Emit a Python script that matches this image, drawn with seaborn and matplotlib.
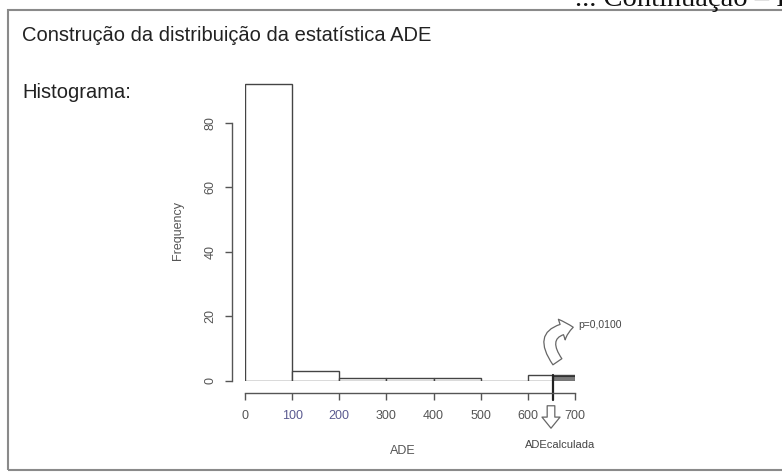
import numpy as np
import pandas as pd
import matplotlib
matplotlib.use("Agg")
import matplotlib.pyplot as plt
import matplotlib.transforms as mtransforms
from matplotlib.patches import FancyArrowPatch, Rectangle
import seaborn as sns

# ---- data ----
bin_edges = [0, 100, 200, 300, 400, 500, 600, 700]
bin_counts = [92, 3, 1, 1, 1, 0, 2]
x_ticks = [0, 100, 200, 300, 400, 500, 600, 700]
y_ticks = [0, 20, 40, 60, 80]
ade_calc = 653
shade_height = 1.5
p_label = "p=0,0100"
title = "Construção da distribuição da estatística ADE"
subtitle = "Histograma:"
header = "... Continuação – Figura"

sns.set_theme(style="ticks")
plt.rcParams['font.family'] = ['Liberation Sans', 'DejaVu Sans']

W, H = 782, 475
fig = plt.figure(figsize=(W / 100, H / 100), dpi=100)
fig.patch.set_facecolor('white')

def fx(px):
    return px / W

def fy(py):
    return 1 - py / H

# axes: data x 0..700 -> px 245..575 ; y 0 -> px 381, 80 -> px 122.7
px_per_unit = (381 - 122.7) / 80
top_px = 70
ymax = (381 - top_px) / px_per_unit
ax = fig.add_axes([fx(245), fy(381), fx(575) - fx(245), (381 - top_px) / H])
ax.set_facecolor('none')

mids = [(a + b) / 2 for a, b in zip(bin_edges[:-1], bin_edges[1:])]
df = pd.DataFrame({"ADE": mids, "n": bin_counts})
sns.histplot(data=df, x="ADE", weights="n", bins=bin_edges, ax=ax,
             color="white", edgecolor="#444444", linewidth=1.0, alpha=1)

# shaded part of the last bin (values >= ADE calculated)
ax.bar([ade_calc], [shade_height], width=bin_edges[-1] - ade_calc, align='edge',
       color="#7a7a7a", edgecolor="#333333", linewidth=0.8)

ax.set_xlim(0, 700)
ax.set_ylim(0, ymax)
for s in ['top', 'right']:
    ax.spines[s].set_visible(False)
ax.spines['bottom'].set_position(('outward', 12 * 0.72))
ax.spines['left'].set_position(('outward', 13 * 0.72))
ax.spines['bottom'].set_bounds(0, 700)
ax.spines['left'].set_bounds(0, 80)
for s in ['bottom', 'left']:
    ax.spines[s].set_color('#555555')
    ax.spines[s].set_linewidth(1.0)

ax.set_xticks(x_ticks)
ax.set_yticks(y_ticks)
ax.set_xticklabels([str(t) for t in x_ticks])
ax.set_yticklabels([str(t) for t in y_ticks], rotation=90, va='center')
ax.tick_params(axis='both', direction='out', length=5, width=1.0,
               color='#555555', labelcolor='#555555', labelsize=9)
ax.tick_params(axis='x', pad=7)
ax.tick_params(axis='y', pad=6)
for lbl in ax.get_xticklabels():
    if lbl.get_text() in ("100", "200"):
        lbl.set_color("#5a5a90")

ax.set_xlabel("ADE", fontsize=9, color='#555555')
ax.set_ylabel("Frequency", fontsize=9, color='#555555')
ax.xaxis.set_label_coords(fx(403), fy(451), transform=fig.transFigure)
ax.xaxis.label.set_va('center')
ax.yaxis.set_label_coords(fx(178), fy(231), transform=fig.transFigure)
ax.yaxis.label.set_va('center')

# vertical line at ADE calculated
trans = mtransforms.blended_transform_factory(ax.transData, fig.transFigure)
ax.plot([ade_calc, ade_calc], [fy(400), fy(375)], transform=trans,
        color="#222222", lw=1.6, clip_on=False)

# hollow down arrow
arr = FancyArrowPatch((fx(551), fy(403)), (fx(551), fy(431)),
                      transform=fig.transFigure,
                      arrowstyle='simple,head_length=0.8,head_width=1.3,tail_width=0.55',
                      mutation_scale=10, facecolor='white', edgecolor='#666666', lw=0.9)
fig.patches.append(arr)

# hollow curved arrow
carr = FancyArrowPatch((fx(559), fy(364)), (fx(576), fy(327)),
                       transform=fig.transFigure,
                       connectionstyle='arc3,rad=-0.9',
                       arrowstyle='simple,head_length=0.7,head_width=1.3,tail_width=0.65',
                       mutation_scale=12, facecolor='white', edgecolor='#666666', lw=0.9)
fig.patches.append(carr)

fig.text(fx(578), fy(325), p_label, fontsize=7.5, color='#444444', va='center', ha='left')
fig.text(fx(560), fy(445), "ADEcalculada", fontsize=8, color='#444444', va='center', ha='center')

# frame and texts
frame = Rectangle((fx(8), fy(470)), fx(800) - fx(8), fy(10) - fy(470),
                  transform=fig.transFigure, fill=False, edgecolor='#8a8a8a', lw=1.5)
fig.patches.append(frame)
fig.text(fx(22), fy(41), title, fontsize=14.5, color='#222222', va='baseline', ha='left')
fig.text(fx(22), fy(98), subtitle, fontsize=14.5, color='#222222', va='baseline', ha='left')
fig.text(fx(575), fy(6), header, fontsize=20.5, family=['Liberation Serif', 'DejaVu Serif'],
         color='#111111', va='baseline', ha='left')

fig.savefig("out.png", dpi=100, facecolor='white')
